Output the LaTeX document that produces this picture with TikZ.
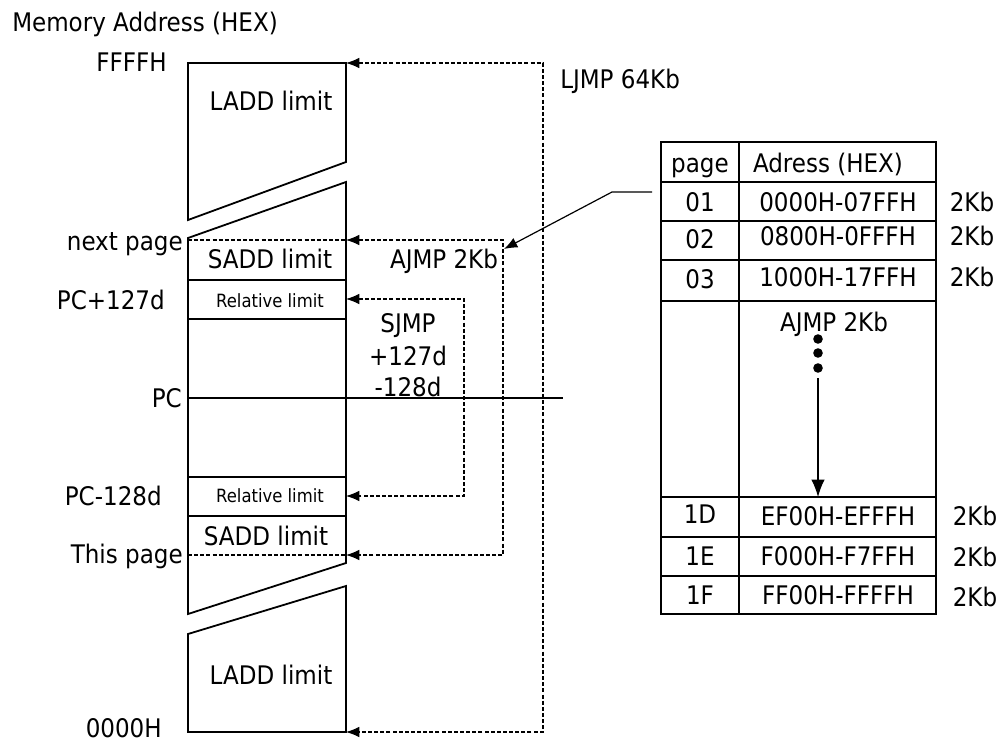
\documentclass[tikz,border=0pt]{standalone}
\usepackage{fontspec}
\setmainfont{DejaVu Sans Condensed}
\usetikzlibrary{arrows.meta}
\begin{document}
\begin{tikzpicture}[x=0.75pt,y=-0.75pt,
  box/.style={line width=1.35pt},
  thin/.style={line width=0.9pt},
  dline/.style={dash pattern=on 3pt off 1.6pt, line width=0.85pt},
  tip/.style={-{Latex[length=10pt,width=8pt]}},
  lbl/.style={font=\fontsize{19.2}{22}\selectfont, inner sep=0pt, text height=14pt, text depth=0pt},
  small/.style={font=\fontsize{13.7}{16}\selectfont, inner sep=0pt, text height=10pt, text depth=0pt},
]
\useasboundingbox (0,0) rectangle (1003,742);

% ---- memory blocks
\draw[box] (188,63) -- (346,63) -- (346,162) -- (188,220) -- cycle;
\draw[box] (188,238) -- (346,182) -- (346,563) -- (188,614) -- cycle;
\draw[box] (188,634) -- (346,586) -- (346,732) -- (188,732) -- cycle;
\draw[box] (188,280) -- (346,280);
\draw[box] (188,319) -- (346,319);
\draw[box] (188,477) -- (346,477);
\draw[box] (188,516) -- (346,516);

\coordinate (pcL) at (188,398);
\coordinate (pcR) at (563,398);
\draw[box] (pcL) -- (pcR);

% ---- dashed page markers
\coordinate (npL) at (188,240);
\coordinate (npR) at (346,240);
\coordinate (tpL) at (188,555);
\coordinate (tpR) at (346,555);
\draw[dline] (npL) -- (npR);
\draw[dline] (tpL) -- (tpR);

% ---- jump connectors
\coordinate (ffff) at (346,63);
\coordinate (ljT) at (543,63);
\coordinate (ljB) at (543,732);
\coordinate (zero) at (346,732);
\draw[dline, {Latex[length=10pt,width=8pt]}-{Latex[length=10pt,width=8pt]}] (ffff) -- (ljT) -- (ljB) -- (zero);

\coordinate (ajT) at (503,240);
\coordinate (ajB) at (503,555);
\draw[dline, {Latex[length=10pt,width=8pt]}-{Latex[length=10pt,width=8pt]}] (npR) -- (ajT) -- (ajB) -- (tpR);

\coordinate (relT) at (346,299);
\coordinate (sjT) at (464,299);
\coordinate (sjB) at (464,496);
\coordinate (relB) at (346,496);
\draw[dline, {Latex[length=10pt,width=8pt]}-{Latex[length=10pt,width=8pt]}] (relT) -- (sjT) -- (sjB) -- (relB);

% ---- labels left
\node[lbl, anchor=west] (title) at (12,22) {Memory Address (HEX)};
\node[lbl, anchor=east] (lFFFF) at (167,62) {FFFFH};
\node[lbl, anchor=east] (lnext) at (183,241) {next page};
\node[lbl, anchor=east] (lpcp) at (165,300) {PC+127d};
\node[lbl, anchor=east] (lpc) at (182,398) {PC};
\node[lbl, anchor=east] (lpcm) at (162,496) {PC-128d};
\node[lbl, anchor=east] (lthis) at (183,554) {This page};
\node[lbl, anchor=east] (l0000) at (162,728) {0000H};

% ---- labels inside blocks
\node[lbl] (ladd1) at (271,101) {LADD limit};
\node[lbl] (sadd1) at (270,259) {SADD limit};
\node[small] (rel1) at (270,301) {Relative limit};
\node[small] (rel2) at (270,496) {Relative limit};
\node[lbl] (sadd2) at (266,536) {SADD limit};
\node[lbl] (ladd2) at (271,675) {LADD limit};

% ---- jump labels
\node[lbl, anchor=west] (ljmp) at (560,79) {LJMP 64Kb};
\node[lbl] (ajmp) at (444,259) {AJMP 2Kb};
\node[lbl] (sjmp) at (408,323) {SJMP};
\node[lbl] (sjp) at (408,356) {+127d};
\node[lbl] (sjm) at (408,387) {-128d};

% ---- table
\draw[box] (661,142) rectangle (936,614);
\draw[box] (739,142) -- (739,614);
\foreach \yy in {182,221,260,301,497,537,576}
  \draw[box] (661,\yy) -- (936,\yy);

\node[lbl] (hpage) at (700,163) {page};
\node[lbl] (haddr) at (828,163) {Adress (HEX)};

\node[lbl] (p01) at (700,202) {01};
\node[lbl] (a01) at (838,202) {0000H-07FFH};
\node[lbl] (s01) at (972,202) {2Kb};
\node[lbl] (p02) at (700,239) {02};
\node[lbl] (a02) at (838,236) {0800H-0FFFH};
\node[lbl] (s02) at (972,236) {2Kb};
\node[lbl] (p03) at (700,279) {03};
\node[lbl] (a03) at (838,277) {1000H-17FFH};
\node[lbl] (s03) at (972,277) {2Kb};

\node[lbl] (tajmp) at (834,322) {AJMP 2Kb};
\fill (818,339) circle[radius=3.6pt];
\fill (818,353) circle[radius=3.6pt];
\fill (818,368) circle[radius=3.6pt];
\coordinate (dotsEnd) at (818,378);
\coordinate (row1D) at (818,497);
\draw[thin, -{Latex[length=13pt,width=10pt]}] (dotsEnd) -- (row1D);

\node[lbl] (p1D) at (700,514) {1D};
\node[lbl] (a1D) at (838,516) {EF00H-EFFFH};
\node[lbl] (s1D) at (975,516) {2Kb};
\node[lbl] (p1E) at (700,556) {1E};
\node[lbl] (a1E) at (838,556) {F000H-F7FFH};
\node[lbl] (s1E) at (975,557) {2Kb};
\node[lbl] (p1F) at (700,595) {1F};
\node[lbl] (a1F) at (838,595) {FF00H-FFFFH};
\node[lbl] (s1F) at (975,597) {2Kb};

% ---- connector from table to AJMP
\coordinate (tabC) at (652,192);
\coordinate (bend) at (612,192);
\coordinate (ajTip) at (504,249);
\draw[thin, tip] (tabC) -- (bend) -- (ajTip);
\end{tikzpicture}
\end{document}
